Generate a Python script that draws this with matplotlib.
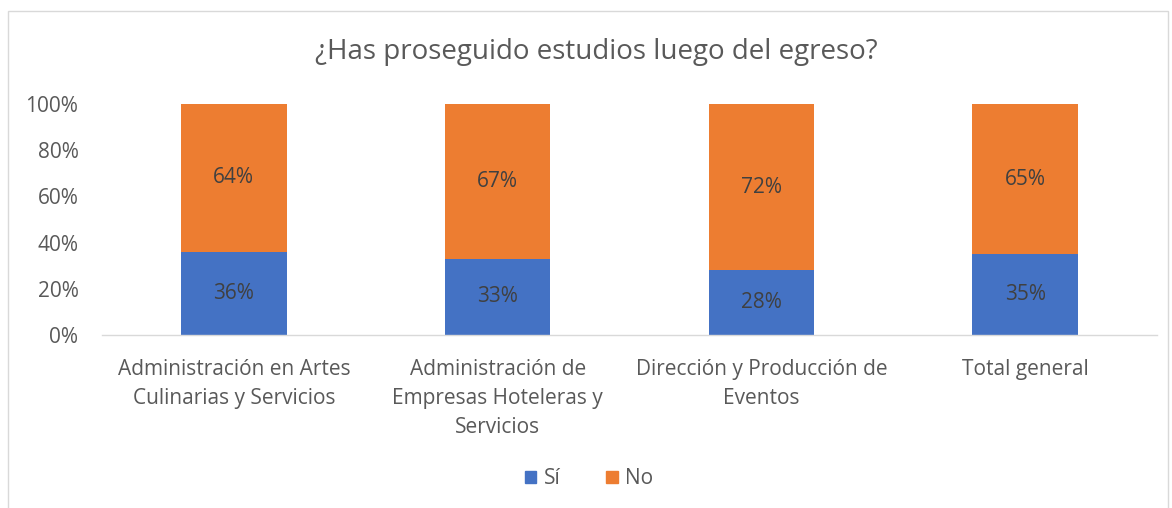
import matplotlib.pyplot as plt
import matplotlib.patches as mpatches
import numpy as np

categories = ["Administración en Artes\nCulinarias y Servicios",
              "Administración de\nEmpresas Hoteleras y\nServicios",
              "Dirección y Producción de\nEventos",
              "Total general"]
si = [36, 33, 28, 35]
no = [64, 67, 72, 65]

blue = "#4472C4"
orange = "#ED7D31"
gray = "#595959"

plt.rcParams["font.family"] = ["Open Sans", "DejaVu Sans"]

fig = plt.figure(figsize=(11.72, 5.08), dpi=100)
ax = fig.add_axes([102 / 1172, 1 - 335 / 508, 1055 / 1172, 231 / 508])

x = np.arange(len(categories))
ax.bar(x, si, width=0.4, color=blue, label="Sí")
ax.bar(x, no, width=0.4, bottom=si, color=orange, label="No")

for i in range(len(categories)):
    ax.text(x[i], si[i] / 2, f"{si[i]}%", ha="center", va="center", fontsize=15, color="#404040")
    ax.text(x[i], si[i] + no[i] / 2, f"{no[i]}%", ha="center", va="center", fontsize=15, color="#404040")

ax.set_xlim(-0.5, len(categories) - 0.5)
ax.set_ylim(0, 100)
ax.set_yticks(range(0, 101, 20))
ax.set_yticklabels([f"{v}%" for v in range(0, 101, 20)])
ax.set_xticks(x)
ax.set_xticklabels(categories, linespacing=1.5)
ax.tick_params(axis="both", length=0, labelsize=15, colors=gray)
ax.tick_params(axis="x", pad=17)
ax.tick_params(axis="y", pad=17)
for s in ["top", "right", "left"]:
    ax.spines[s].set_visible(False)
ax.spines["bottom"].set_color("#D9D9D9")
ax.spines["bottom"].set_linewidth(1)

fig.text(596 / 1172, 1 - 52 / 508, "¿Has proseguido estudios luego del egreso?", ha="center", va="center",
         fontsize=20, color=gray)

handles = [mpatches.Patch(color=blue, label="Sí"), mpatches.Patch(color=orange, label="No")]
fig.legend(handles=handles, loc="center", bbox_to_anchor=(589 / 1172, 1 - 479 / 508), ncol=2, frameon=False,
           fontsize=15, labelcolor=gray, handlelength=0.55, handleheight=0.55, handletextpad=0.35,
           columnspacing=2.2)

fig.patches.append(mpatches.Rectangle((8 / 1172, -0.01), 1160 / 1172, 1 - 11 / 508 + 0.01,
                                      transform=fig.transFigure, fill=False, edgecolor="#D9D9D9",
                                      linewidth=1))

fig.savefig("out.png", dpi=100)
